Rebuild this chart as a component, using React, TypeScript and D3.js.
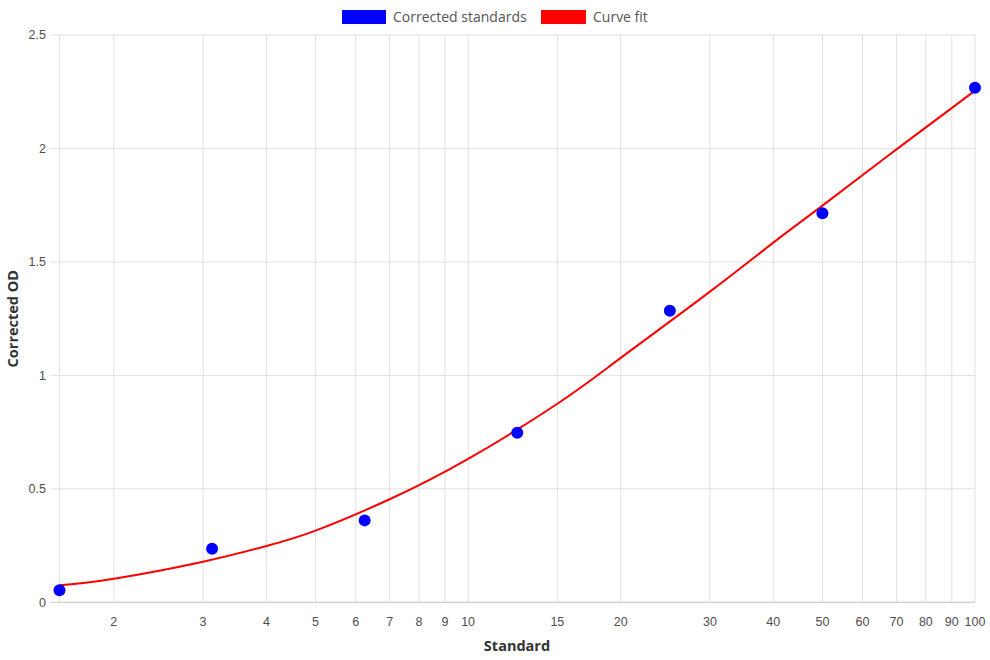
import React from "react";
import * as d3 from "d3";

const standards = [1.5625, 3.125, 6.25, 12.5, 25, 50, 100];
const correctedOD = [0.053, 0.236, 0.361, 0.747, 1.285, 1.714, 2.268];

const fitX = [1.5625, 2, 3, 4, 5, 7, 10, 15, 20, 30, 40, 50, 70, 100];
const fitY = [0.075, 0.104, 0.179, 0.248, 0.316, 0.454, 0.632, 0.875, 1.077, 1.369, 1.585, 1.748, 1.996, 2.255];

const xTickValues = [2, 3, 4, 5, 6, 7, 8, 9, 10, 15, 20, 30, 40, 50, 60, 70, 80, 90, 100];
const yTickValues = [0, 0.5, 1, 1.5, 2, 2.5];

const W = 990;
const H = 660;
const left = 59.5;
const right = 975;
const top = 35;
const bottom = 602.3;

export default function App() {
  const x = d3.scaleLog().domain([1.5625, 100]).range([left, right]);
  const y = d3.scaleLinear().domain([0, 2.5]).range([bottom, top]);
  const fitPts = fitX.map((v, i) => [v, fitY[i]] as [number, number]);
  const line = d3
    .line<[number, number]>()
    .x((d) => x(d[0]))
    .y((d) => y(d[1]))
    .curve(d3.curveNatural);
  const tickFont = "'Liberation Sans', Arial, sans-serif";
  const titleFont = "'Open Sans', sans-serif";
  return (
    <svg width={W} height={H} style={{ position: "absolute", left: 0, top: 0, background: "#fff" }}>
      {yTickValues.map((t) => (
        <g key={"y" + t}>
          <line x1={50} x2={right} y1={y(t)} y2={y(t)} stroke={t === 0 ? "#cfcfcf" : "#e0e0e0"} strokeWidth={1} />
          <text x={46} y={y(t)} dy="0.35em" textAnchor="end" fontFamily={tickFont} fontSize={12.5} fill="#4d4d4d">
            {String(t)}
          </text>
        </g>
      ))}
      <line x1={left} x2={left} y1={top} y2={bottom} stroke="#e0e0e0" />
      {xTickValues.map((t) => (
        <g key={"x" + t}>
          <line x1={x(t)} x2={x(t)} y1={top} y2={bottom} stroke="#e0e0e0" strokeWidth={1} />
          <text x={x(t)} y={622} dy="0.35em" textAnchor="middle" fontFamily={tickFont} fontSize={12.5} fill="#4d4d4d">
            {String(t)}
          </text>
        </g>
      ))}
      <line x1={left} x2={right} y1={bottom} y2={bottom} stroke="#cfcfcf" />
      <text x={517} y={646} dy="0.35em" textAnchor="middle" fontFamily={titleFont} fontWeight={700} fontSize={14.5} fill="#333">
        Standard
      </text>
      <text
        transform={`translate(13,${(top + bottom) / 2}) rotate(-90)`}
        dy="0.35em"
        textAnchor="middle"
        fontFamily={titleFont}
        fontWeight={700}
        fontSize={14.5}
        fill="#333"
      >
        Corrected OD
      </text>
      <path d={line(fitPts) || ""} fill="none" stroke="#ff0000" strokeWidth={2} />
      {standards.map((s, i) => (
        <circle key={"p" + i} cx={x(s)} cy={y(correctedOD[i])} r={6} fill="#0000ff" />
      ))}
      <rect x={342} y={10} width={44} height={14} fill="#0000ff" />
      <text x={393} y={17} dy="0.35em" fontFamily={titleFont} fontSize={14} fill="#555">
        Corrected standards
      </text>
      <rect x={541} y={10} width={45} height={14} fill="#ff0000" />
      <text x={593} y={17} dy="0.35em" fontFamily={titleFont} fontSize={14} fill="#555">
        Curve fit
      </text>
    </svg>
  );
}
